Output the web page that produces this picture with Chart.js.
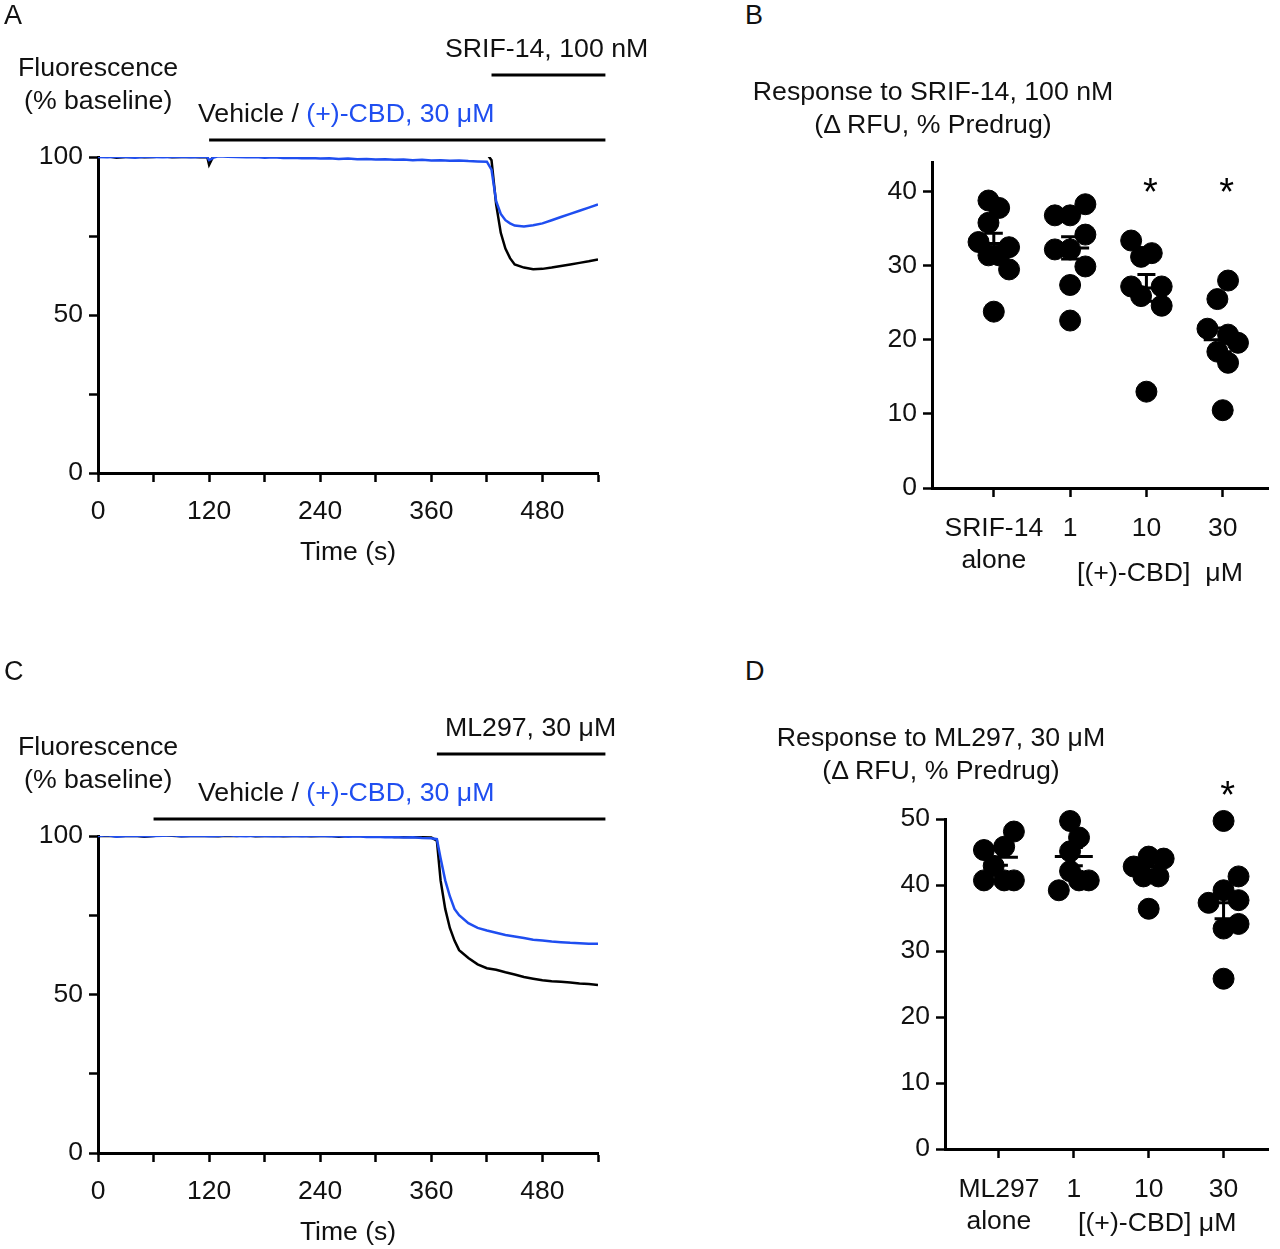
<!DOCTYPE html>
<html><head><meta charset="utf-8">
<script src="https://cdn.jsdelivr.net/npm/chart.js@4"></script>
<style>
body{margin:0;background:#fff;width:1280px;height:1249px;position:relative;overflow:hidden;font-family:"Liberation Sans",Arial,sans-serif;}
canvas{position:absolute;}
.t{position:absolute;font-size:26.7px;color:#111;white-space:nowrap;line-height:30px;}
.b{color:#1f4ef0;}
.c{text-align:center;}
</style></head><body>
<canvas id="cA" style="left:0;top:0;width:620px;height:573px"></canvas>
<canvas id="cB" style="left:840px;top:0;width:440px;height:588px"></canvas>
<canvas id="cC" style="left:0;top:680px;width:620px;height:573px"></canvas>
<canvas id="cD" style="left:840px;top:680px;width:440px;height:569px"></canvas>

<div class="t" style="left:4px;top:0px;font-size:27px">A</div>
<div class="t" style="left:18px;top:52px">Fluorescence</div>
<div class="t" style="left:24px;top:85px">(% baseline)</div>
<div class="t" style="left:198px;top:98px">Vehicle / <span class="b">(+)-CBD, 30 μM</span></div>
<div class="t" style="left:445px;top:33px">SRIF-14, 100 nM</div>
<div class="t" style="left:745px;top:0px;font-size:27px">B</div>
<div class="t c" style="left:733px;width:400px;top:76px">Response to SRIF-14, 100 nM</div>
<div class="t c" style="left:733px;width:400px;top:109px">(Δ RFU, % Predrug)</div>
<div class="t" style="left:1077px;top:557px">[(+)-CBD]&nbsp; μM</div>

<div class="t" style="left:4px;top:656px;font-size:27px">C</div>
<div class="t" style="left:18px;top:731px">Fluorescence</div>
<div class="t" style="left:24px;top:764px">(% baseline)</div>
<div class="t" style="left:198px;top:777px">Vehicle / <span class="b">(+)-CBD, 30 μM</span></div>
<div class="t" style="left:445px;top:712px">ML297, 30 μM</div>
<div class="t" style="left:745px;top:656px;font-size:27px">D</div>
<div class="t c" style="left:741px;width:400px;top:722px">Response to ML297, 30 μM</div>
<div class="t c" style="left:741px;width:400px;top:755px">(Δ RFU, % Predrug)</div>
<div class="t" style="left:1078px;top:1207px">[(+)-CBD] μM</div>
<script>
// ---------- data ----------
const timeA=[0,10,20,30,40,50,60,70,80,90,100,110,118,120,125,130,140,150,160,170,180,190,200,210,220,230,240,250,260,270,280,290,300,310,320,330,340,350,360,370,380,390,400,410,420,425,430,435,440,445,450,460,470,480,490,500,510,520,530,540];
const blackA=[100,100.2,99.8,100,100.1,99.9,100,100.2,99.9,100,100.1,99.9,100,97.5,100.5,101,101.2,101,101.3,101.1,101.2,101,101.3,101.2,101,101.2,101.1,101.3,101,101.2,101.1,101,101.2,101.1,101,101.2,101.1,101,101.2,101.1,101,101.2,101.1,101,101,99,85,76,71,68,66,65,64.5,64.6,65,65.5,66,66.5,67,67.6];
const blueA=[100,99.9,100.1,100,99.8,100.1,100,99.9,100,100.1,99.9,100,100,99,99.8,100.2,100.1,100,99.9,100,99.8,99.9,99.7,99.8,99.6,99.7,99.5,99.6,99.4,99.5,99.3,99.4,99.2,99.3,99.1,99.2,99,99.1,98.9,99,98.8,98.9,98.7,98.6,98.5,96,86,82,80,79,78.3,78,78.4,79,80,81,82,83,84,85];
const timeC=[0,10,20,30,40,50,60,70,80,90,100,110,120,130,140,150,160,170,180,190,200,210,220,230,240,250,260,270,280,290,300,310,320,330,340,350,360,366,370,375,380,385,390,400,410,420,430,440,450,460,470,480,490,500,510,520,530,540];
const blackC=[100,100.1,99.9,100,100.1,99.8,100,100.3,100.1,99.9,100,100.1,100,99.9,100.1,100,100.2,99.9,100,100.1,99.9,100,100.1,99.9,100,100.1,99.8,100,100.1,99.9,99.8,100,99.7,99.8,99.7,99.6,99.5,98.5,86,77,71,67,64,61.5,59.5,58.3,57.8,57,56.3,55.5,55,54.5,54.2,54,53.8,53.5,53.3,53];
const blueC=[100,100.2,99.8,100,100.1,99.9,100,100.1,100.2,99.9,100,100.1,99.9,100,100.2,100,99.9,100.1,100,99.9,100,100.1,99.9,100,100.1,99.9,100,99.8,99.9,99.7,99.8,99.6,99.7,99.5,99.6,99.4,99.3,99,93,86,81,77,75,72.5,71,70.2,69.5,68.8,68.3,67.8,67.3,67,66.7,66.5,66.3,66.2,66,66];
const treatA=[[120,548],[425,548]];
const treatC=[[60,548],[366,548]];
const timeTicks=[0,60,120,180,240,300,360,420,480,540];

const catsB=[['SRIF-14','alone'],'1','10','30'];
const catsD=[['ML297','alone'],'1','10','30'];
const ptsB=[[38.8,37.8,35.8,33.2,32.5,31.4,31.4,29.5,23.8],[38.3,36.8,36.8,34.2,32.2,32.2,29.9,27.4,22.6],[33.4,31.7,31.2,27.2,27.2,25.9,24.6,13.0],[28.0,25.5,21.5,20.7,19.6,18.4,16.9,10.5]];
const meanB=[33.0,32.4,27.0,20.0];
const semB=[1.4,1.5,1.8,1.6];
const ptsD=[[48.1,45.8,45.3,42.9,40.7,40.7,40.7],[49.7,47.2,45.1,42.1,40.7,40.7,39.2],[44.3,44.0,42.8,41.3,41.3,36.4],[49.7,41.3,39.2,37.7,37.3,34.1,33.4,25.8]];
const meanD=[44.2,44.3,42.8,37.3];
const semD=[1.2,1.4,0.9,2.4];
const jitB=[[-0.07,0.07,-0.07,-0.2,0.2,-0.07,0.07,0.2,0],[0.2,-0.2,0,0.2,-0.2,0,0.2,0,0],[-0.2,0.07,-0.07,-0.2,0.2,-0.07,0.2,0],[0.07,-0.07,-0.2,0.07,0.2,-0.07,0.07,0]];
const jitD=[[0.2,0.07,-0.2,-0.07,-0.2,0.07,0.2],[-0.05,0.07,-0.05,-0.05,0.07,0.2,-0.2],[0,0.2,-0.2,-0.07,0.13,0],[0,0.2,0,0.2,-0.2,0.2,0,0]];
const starB=[2,3], starD=[3];

Chart.defaults.font.family='"Liberation Sans", Arial, sans-serif';
Chart.defaults.color='#111';
const tickFont={size:26.5};

function traceChart(id,t,blk,blu,treat,treatY,padTop){
  const pts=(v)=>t.map((x,i)=>({x,y:v[i]}));
  new Chart(document.getElementById(id),{type:'line',
    data:{datasets:[{data:pts(blu),borderColor:'#1f4ef0',borderWidth:2.5,pointRadius:0,tension:0},
                    {data:pts(blk),borderColor:'#000',borderWidth:2.5,pointRadius:0,tension:0}]},
    options:{responsive:false,animation:false,layout:{padding:{top:padTop,right:22,left:0,bottom:0}},
      plugins:{legend:{display:false},tooltip:{enabled:false}},
      scales:{
        x:{type:'linear',min:0,max:540,afterBuildTicks:s=>{s.ticks=timeTicks.map(v=>({value:v}));},
          ticks:{font:tickFont,maxRotation:0,autoSkip:false,padding:14,callback:v=>v%120===0&&v<=480?String(v):''},
          grid:{drawOnChartArea:false,tickLength:9,tickWidth:2.5,color:'#000'},border:{color:'#000',width:3},
          title:{display:true,text:'Time (s)',font:{size:26.5},padding:{top:0}},afterFit:s=>{s.height=100;}},
        y:{min:0,max:100,afterBuildTicks:s=>{s.ticks=[0,25,50,75,100].map(v=>({value:v}));},
          ticks:{font:tickFont,padding:6,callback:v=>v%50===0?String(v):''},
          grid:{drawOnChartArea:false,tickLength:9,tickWidth:2.5,color:'#000'},border:{color:'#000',width:3},
          afterFit:s=>{s.width=98;}}}},
    plugins:[{id:'bars',afterDraw(c){const x=c.scales.x,ctx=c.ctx;ctx.save();ctx.strokeStyle='#000';ctx.lineWidth=3;
      treat.forEach((r,i)=>{ctx.beginPath();ctx.moveTo(x.getPixelForValue(r[0]),treatY[i]);ctx.lineTo(x.getPixelForValue(r[1]),treatY[i]);ctx.stroke();});ctx.restore();}}]
  });
}
traceChart('cA',timeA,blackA,blueA,treatA,[140,75],157);
traceChart('cC',timeC,blackC,blueC,treatC,[139,74],156);

function scatterChart(id,cats,pts,jit,mean,sem,stars,ymax,xmin,yw,padTop,starY){
  const data=[];pts.forEach((g,i)=>g.forEach((v,j)=>data.push({x:i+jit[i][j],y:v})));
  new Chart(document.getElementById(id),{type:'scatter',
    data:{datasets:[{data,backgroundColor:'#000',borderColor:'#000',pointRadius:10.5,pointHoverRadius:10.5}]},
    options:{responsive:false,animation:false,clip:false,layout:{padding:{top:padTop,right:5}},
      plugins:{legend:{display:false},tooltip:{enabled:false}},
      scales:{
        x:{type:'linear',min:xmin,max:3.6,afterBuildTicks:s=>{s.ticks=[0,1,2,3].map(v=>({value:v}));},
          ticks:{font:tickFont,maxRotation:0,autoSkip:false,padding:16,callback:v=>cats[v]},
          grid:{drawOnChartArea:false,tickLength:9,tickWidth:2.5,color:'#000'},border:{color:'#000',width:3},
          afterFit:s=>{s.height=100;}},
        y:{min:0,max:ymax,afterBuildTicks:s=>{const t=[];for(let v=0;v<=ymax;v+=10)t.push({value:v});s.ticks=t;},
          ticks:{font:tickFont,padding:6},
          grid:{drawOnChartArea:false,tickLength:9,tickWidth:2.5,color:'#000'},border:{color:'#000',width:3},
          afterFit:s=>{s.width=yw;}}}},
    plugins:[{id:'err',afterDatasetsDraw(c){const x=c.scales.x,y=c.scales.y,ctx=c.ctx;ctx.save();ctx.strokeStyle='#000';ctx.lineWidth=3;
      mean.forEach((m,i)=>{const px=x.getPixelForValue(i);const pm=y.getPixelForValue(m),pt=y.getPixelForValue(m+sem[i]),pb=y.getPixelForValue(m-sem[i]);
        ctx.beginPath();ctx.moveTo(px-19,pm);ctx.lineTo(px+19,pm);ctx.moveTo(px,pt);ctx.lineTo(px,pb);
        ctx.moveTo(px-9,pt);ctx.lineTo(px+9,pt);ctx.moveTo(px-9,pb);ctx.lineTo(px+9,pb);ctx.stroke();});
      ctx.fillStyle='#000';ctx.font='38px "Liberation Sans", Arial';ctx.textAlign='center';
      stars.forEach(i=>ctx.fillText('*',x.getPixelForValue(i)+4,starY));ctx.restore();}}]
  });
}
scatterChart('cB',catsB,ptsB,jitB,meanB,semB,starB,44,-0.81,92,162,205);
scatterChart('cD',catsD,ptsD,jitD,meanD,semD,starD,50,-0.72,105,139,128);
</script></body></html>
